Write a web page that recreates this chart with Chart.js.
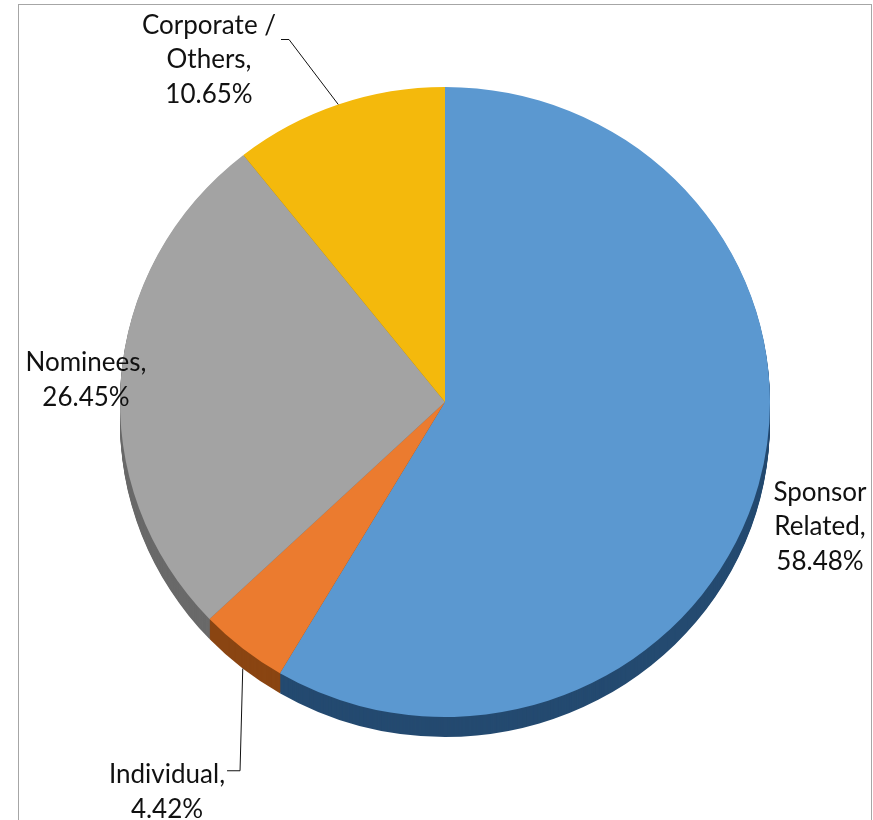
<!DOCTYPE html>
<html lang="en">
<head>
    <meta charset="UTF-8">
    <title>Shareholding Pattern</title>
    <script src="https://cdn.jsdelivr.net/npm/chart.js"></script>
    <style>
        body {
            margin: 0;
            background: #fff;
        }
        .frame {
            position: absolute;
            left: 18px;
            top: 4px;
            width: 852px;
            height: 830px;
            border: 1px solid #a6a6a6;
        }
        #holders {
            position: absolute;
            left: 0;
            top: 0;
        }
    </style>
</head>
<body>
<div class="frame"></div>
<canvas id="holders" width="873" height="820"></canvas>

<script>
// shareholding split, clockwise from 12 o'clock
const categories = [['Sponsor', 'Related'], ['Individual'], ['Nominees'], ['Corporate /', 'Others']];
const shares = [58.48, 4.42, 26.45, 10.65];

const topColors  = ['#5b98d0', '#eb7b2f', '#a3a3a3', '#f4b90c'];
const sideColors = ['#244a70', '#8a4512', '#6a6a6a', '#9a7406'];

const tilt = 315 / 325;   // squash of the pie top
const depth = 20;         // thickness of the side wall

// label block centre relative to pie centre, plus optional leader line
const labelPos = [
  { dx: 375, dy: 125 },
  { dx: -278, dy: 390, leader: { gap: 2, run: 13, lineDy: -4, rimDrop: true } },
  { dx: -359, dy: -22 },
  { dx: -236, dy: -342, leader: { gap: 5, run: 8, lineDy: 14 } }
];
const lineH = 34.5;
const font = '26px Lato, "Open Sans", sans-serif';

const pie3d = {
  id: 'pie3d',
  beforeDatasetsDraw(chart) {
    const ctx = chart.ctx;
    const arcs = chart.getDatasetMeta(0).data;
    const cx = arcs[0].x, cy = arcs[0].y;
    ctx.save();
    ctx.translate(cx, cy);
    ctx.scale(1, tilt);
    ctx.translate(-cx, -cy);
    // side wall: darker copies stacked downward
    for (let d = depth; d > 0; d--) {
      arcs.forEach((a, i) => {
        const oy = a.y + d / tilt;
        ctx.beginPath();
        ctx.moveTo(a.x, oy);
        ctx.arc(a.x, oy, a.outerRadius, a.startAngle, a.endAngle);
        ctx.closePath();
        ctx.fillStyle = sideColors[i];
        ctx.fill();
      });
    }
  },
  afterDatasetsDraw(chart) {
    chart.ctx.restore();
  }
};

const pieLabels = {
  id: 'pieLabels',
  afterDraw(chart) {
    const ctx = chart.ctx;
    const arcs = chart.getDatasetMeta(0).data;
    ctx.save();
    ctx.font = font;
    ctx.fillStyle = '#111';
    ctx.textAlign = 'center';
    ctx.textBaseline = 'middle';
    arcs.forEach((a, i) => {
      const cat = categories[i];
      const lines = cat.slice(0, -1).concat([cat[cat.length - 1] + ',', shares[i].toFixed(2) + '%']);
      const p = labelPos[i];
      const bx = a.x + p.dx;
      const top = a.y + p.dy - (lines.length - 1) * lineH / 2;
      lines.forEach((t, k) => ctx.fillText(t, bx, top + k * lineH));

      if (p.leader) {
        const L = p.leader;
        const w = ctx.measureText(lines[0]).width;
        const mid = (a.startAngle + a.endAngle) / 2;
        const rx = a.x + a.outerRadius * Math.cos(mid);
        let ry = a.y + a.outerRadius * tilt * Math.sin(mid);
        if (L.rimDrop) ry += depth;
        const sx = bx + w / 2 + L.gap;
        const sy = top + L.lineDy;
        ctx.beginPath();
        ctx.moveTo(sx, sy);
        ctx.lineTo(sx + L.run, sy);
        ctx.lineTo(rx, ry);
        ctx.strokeStyle = '#111';
        ctx.lineWidth = 1;
        ctx.stroke();
      }
    });
    ctx.restore();
  }
};

new Chart(document.getElementById('holders'), {
  type: 'pie',
  data: {
    labels: categories,
    datasets: [{
      data: shares,
      backgroundColor: topColors,
      borderWidth: 0
    }]
  },
  options: {
    responsive: false,
    animation: false,
    layout: { padding: { left: 120, right: 103, top: 77, bottom: 93 } },
    plugins: {
      legend: { display: false },
      tooltip: { enabled: false }
    }
  },
  plugins: [pie3d, pieLabels]
});
</script>
</body>
</html>
